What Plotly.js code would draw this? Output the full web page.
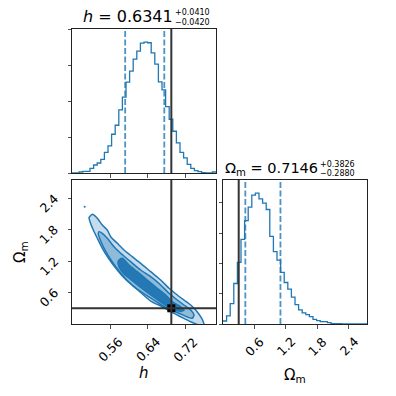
<!DOCTYPE html>
<html>
<head>
<meta charset="utf-8">
<script src="https://cdn.plot.ly/plotly-3.0.1.min.js"></script>
<style>
  html, body { margin: 0; padding: 0; background: #fff; }
  #grafico { width: 396px; height: 396px; }
</style>
</head>
<body>
<div id="grafico"></div>
<script>
// --- datos ---
const hRange = [0.4793, 0.7848];
const omRange = [0.0, 2.75];

// histogramas (40 bins, cuentas relativas)
const hCounts = [0, 0, 3, 5, 5, 14, 24, 30, 41, 62, 81, 116, 143, 189, 227, 272, 305, 341, 365, 389,
                 392, 390, 360, 326, 273, 249, 199, 161, 125, 90, 62, 45, 26, 14, 7, 4, 1, 0, 0, 3];
const omCounts = [9, 24, 61, 121, 184, 253, 309, 349, 385, 391, 374, 361, 342, 262, 216, 191, 154, 124, 104, 80,
                  58, 42, 33, 28, 22, 14, 10, 7, 7, 4, 1, 1, 1, 0, 0, 0, 0, 0, 0, 0];

const hTruth = 0.69;
const omTruth = 0.30;
const hQuantiles = [0.5921, 0.6751];
const omQuantiles = [0.4266, 1.0972];

const hTicks = [0.56, 0.64, 0.72];
const hTickLabels = ['0.56', '0.64', '0.72'];
const omTicks = [0.6, 1.2, 1.8, 2.4];
const omTickLabels = ['0.6', '1.2', '1.8', '2.4'];
const hHistTicks = [0, 107.5, 215, 322.5, 430];
const omHistTicks = [0, 90.5, 181, 271.5, 362];

// contornos 2D (h, Omega_m): borde superior y luego borde inferior de vuelta
const outerH = [0.5224, 0.5330, 0.5436, 0.5542, 0.5614, 0.5754, 0.5896, 0.6072, 0.6250, 0.6462, 0.6675, 0.6851,
                0.7027, 0.7169, 0.7311, 0.7417, 0.7523, 0.7578, 0.7593,
                0.7451, 0.7311, 0.7099, 0.6887, 0.6709, 0.6462, 0.6250, 0.6038, 0.5860, 0.5720, 0.5578,
                0.5436, 0.5330, 0.5245, 0.5175, 0.5154];
const outerOm = [2.095, 2.019, 1.891, 1.795, 1.667, 1.541, 1.413, 1.285, 1.159, 0.999, 0.840, 0.682,
                 0.554, 0.458, 0.363, 0.267, 0.139, 0.044, -0.019,
                 -0.010, 0.044, 0.139, 0.235, 0.330, 0.439, 0.602, 0.764, 0.917, 1.069, 1.241,
                 1.446, 1.637, 1.795, 1.954, 2.030];
const midH = [0.5366, 0.5436, 0.5542, 0.5684, 0.5826, 0.6038, 0.6250, 0.6462, 0.6675, 0.6851, 0.7027, 0.7169,
              0.7311, 0.7381, 0.7345,
              0.7239, 0.7027, 0.6851, 0.6639, 0.6426, 0.6178, 0.5966, 0.5790, 0.5648, 0.5508, 0.5402, 0.5351];
const midOm = [1.763, 1.732, 1.637, 1.476, 1.350, 1.190, 1.031, 0.903, 0.745, 0.586, 0.458, 0.363,
               0.267, 0.172, 0.109,
               0.134, 0.220, 0.277, 0.392, 0.516, 0.668, 0.831, 1.012, 1.184, 1.385, 1.585, 1.719];
const innerH = [0.5790, 0.5860, 0.6002, 0.6178, 0.6390, 0.6602, 0.6781, 0.6921, 0.7099, 0.7169,
                0.7099, 0.6887, 0.6675, 0.6462, 0.6250, 0.6038, 0.5896, 0.5790, 0.5769];
const innerOm = [1.222, 1.255, 1.127, 0.999, 0.840, 0.682, 0.554, 0.426, 0.330, 0.267,
                 0.239, 0.296, 0.420, 0.554, 0.697, 0.850, 0.955, 1.089, 1.184];
const strayH = [0.5062];
const strayOm = [2.240];

// --- estilo ---
const AZUL = '#1f77b4';
const NEGRO = '#222222';
const FUENTE = 'DejaVu Sans, sans-serif';
const W = 396;
const px = (x) => x / W;          // pixel horizontal -> papel
const py = (y) => 1 - y / W;      // pixel vertical -> papel

function trazoEscalon(counts, range, xa, ya) {
    const n = counts.length;
    const dx = (range[1] - range[0]) / n;
    const xs = [], ys = [];
    for (let i = 0; i < n; i++) {
        xs.push(range[0] + i * dx);
        ys.push(counts[i]);
    }
    xs.push(range[1]);
    ys.push(counts[n - 1]);
    return {
        x: xs, y: ys, xaxis: xa, yaxis: ya, type: 'scatter', mode: 'lines',
        line: { color: AZUL, width: 1.3, shape: 'hv' }, hoverinfo: 'skip'
    };
}

function poligono(xs, ys, relleno) {
    return {
        x: xs.concat([xs[0]]), y: ys.concat([ys[0]]), xaxis: 'x2', yaxis: 'y2',
        type: 'scatter', mode: 'lines', fill: 'toself', fillcolor: relleno,
        line: { color: AZUL, width: 1.5, shape: 'spline', smoothing: 0.6 }, hoverinfo: 'skip'
    };
}

const traces = [
    trazoEscalon(hCounts, hRange, 'x', 'y'),
    trazoEscalon(omCounts, omRange, 'x3', 'y3'),
    poligono(outerH, outerOm, '#c6dcec'),
    poligono(midH, midOm, '#8fbbda'),
    poligono(innerH, innerOm, '#2479b5'),
    { x: strayH, y: strayOm, xaxis: 'x2', yaxis: 'y2', type: 'scatter', mode: 'markers',
      marker: { color: AZUL, size: 2 }, hoverinfo: 'skip' },
    { x: [hTruth], y: [omTruth], xaxis: 'x2', yaxis: 'y2', type: 'scatter', mode: 'markers',
      marker: { color: '#000', size: 8, symbol: 'square' }, hoverinfo: 'skip', cliponaxis: false }
];

const ejeBase = {
    showline: true, linecolor: NEGRO, linewidth: 1, mirror: true,
    ticks: 'outside', ticklen: 3.5, tickwidth: 0.8, tickcolor: NEGRO,
    showgrid: false, zeroline: false, showticklabels: false, fixedrange: true
};

const colL = [px(72), px(216)];
const colR = [px(223), px(367)];
const rowT = [py(173), py(29)];
const rowB = [py(324), py(180)];

const maxH = Math.max(...hCounts);
const maxOm = Math.max(...omCounts);

const shapes = [];
function lineaV(xref, x, color, dash, width) {
    const yref = xref.replace('x', 'y') + ' domain';
    shapes.push({ type: 'line', xref: xref, yref: yref, x0: x, x1: x, y0: 0, y1: 1,
                  line: { color: color, width: width, dash: dash } });
}
hQuantiles.forEach(q => lineaV('x', q, 'rgba(31,119,180,0.8)', '6px,2.5px', 1.8));
omQuantiles.forEach(q => lineaV('x3', q, 'rgba(31,119,180,0.8)', '6px,2.5px', 1.8));
lineaV('x', hTruth, '#333', 'solid', 2);
lineaV('x3', omTruth, '#333', 'solid', 2);
lineaV('x2', hTruth, '#333', 'solid', 2);
shapes.push({ type: 'line', xref: 'x2 domain', yref: 'y2', x0: 0, x1: 1, y0: omTruth, y1: omTruth,
              line: { color: '#333', width: 2 } });

const annotations = [];
function texto(t, x, y, opts) {
    annotations.push(Object.assign({
        text: t, x: x, y: y, xref: 'paper', yref: 'paper', showarrow: false,
        font: { family: FUENTE, size: 12.5, color: '#000' }
    }, opts || {}));
}
const fTitulo = { family: FUENTE, size: 16, color: '#000' };
const fTitulo2 = { family: FUENTE, size: 14.5, color: '#000' };
const fError = { family: FUENTE, size: 8, color: '#000' };

// títulos con errores apilados
texto('<i>h</i> = 0.6341', px(174.5), py(16.5), { xanchor: 'right', yanchor: 'middle', font: fTitulo });
texto('+0.0410', px(172.5), py(12.5), { xanchor: 'left', yanchor: 'middle', font: fError });
texto('\u22120.0420', px(172.5), py(22), { xanchor: 'left', yanchor: 'middle', font: fError });
texto('\u03A9<sub>m</sub> = 0.7146', px(319.5), py(168.5), { xanchor: 'right', yanchor: 'middle', font: fTitulo2 });
texto('+0.3826', px(317.5), py(164), { xanchor: 'left', yanchor: 'middle', font: fError });
texto('\u22120.2880', px(317.5), py(173.5), { xanchor: 'left', yanchor: 'middle', font: fError });

// etiquetas de ticks rotadas (centradas como en matplotlib)
const fTick = { family: FUENTE, size: 12.5, color: '#000' };
hTicks.forEach((v, i) => {
    annotations.push({ text: hTickLabels[i], x: v, xref: 'x2', y: py(331), yref: 'paper',
        xanchor: 'center', yanchor: 'top', textangle: -45, showarrow: false, font: fTick });
});
omTicks.forEach((v, i) => {
    annotations.push({ text: omTickLabels[i], x: v, xref: 'x3', y: py(331), yref: 'paper',
        xanchor: 'center', yanchor: 'top', textangle: -45, showarrow: false, font: fTick });
    annotations.push({ text: omTickLabels[i], x: px(64), xref: 'paper', y: v, yref: 'y2',
        xanchor: 'right', yanchor: 'middle', yshift: -5, textangle: -45, showarrow: false, font: fTick });
});

// nombres de ejes
const fEje = { family: FUENTE, size: 15, color: '#000' };
texto('<i>h</i>', px(144), py(373), { xanchor: 'center', yanchor: 'middle', font: fEje });
texto('\u03A9<sub>m</sub>', px(295), py(375), { xanchor: 'center', yanchor: 'middle', font: fEje });
texto('\u03A9<sub>m</sub>', px(20), py(252), { xanchor: 'center', yanchor: 'middle', textangle: -90, font: fEje });

const layout = {
    width: W, height: W,
    margin: { l: 0, r: 0, t: 0, b: 0 },
    paper_bgcolor: '#fff', plot_bgcolor: '#fff',
    showlegend: false,
    xaxis:  Object.assign({}, ejeBase, { domain: colL, anchor: 'y',  range: hRange, tickvals: hTicks }),
    yaxis:  Object.assign({}, ejeBase, { domain: rowT, anchor: 'x',  range: [0, 1.1 * maxH], tickvals: hHistTicks }),
    xaxis2: Object.assign({}, ejeBase, { domain: colL, anchor: 'y2', range: hRange, tickvals: hTicks }),
    yaxis2: Object.assign({}, ejeBase, { domain: rowB, anchor: 'x2', range: omRange, tickvals: omTicks }),
    xaxis3: Object.assign({}, ejeBase, { domain: colR, anchor: 'y3', range: omRange, tickvals: omTicks }),
    yaxis3: Object.assign({}, ejeBase, { domain: rowB, anchor: 'x3', range: [0, 1.1 * maxOm], tickvals: omHistTicks }),
    shapes: shapes,
    annotations: annotations
};

Plotly.newPlot('grafico', traces, layout, { displayModeBar: false, staticPlot: true });
</script>
</body>
</html>
